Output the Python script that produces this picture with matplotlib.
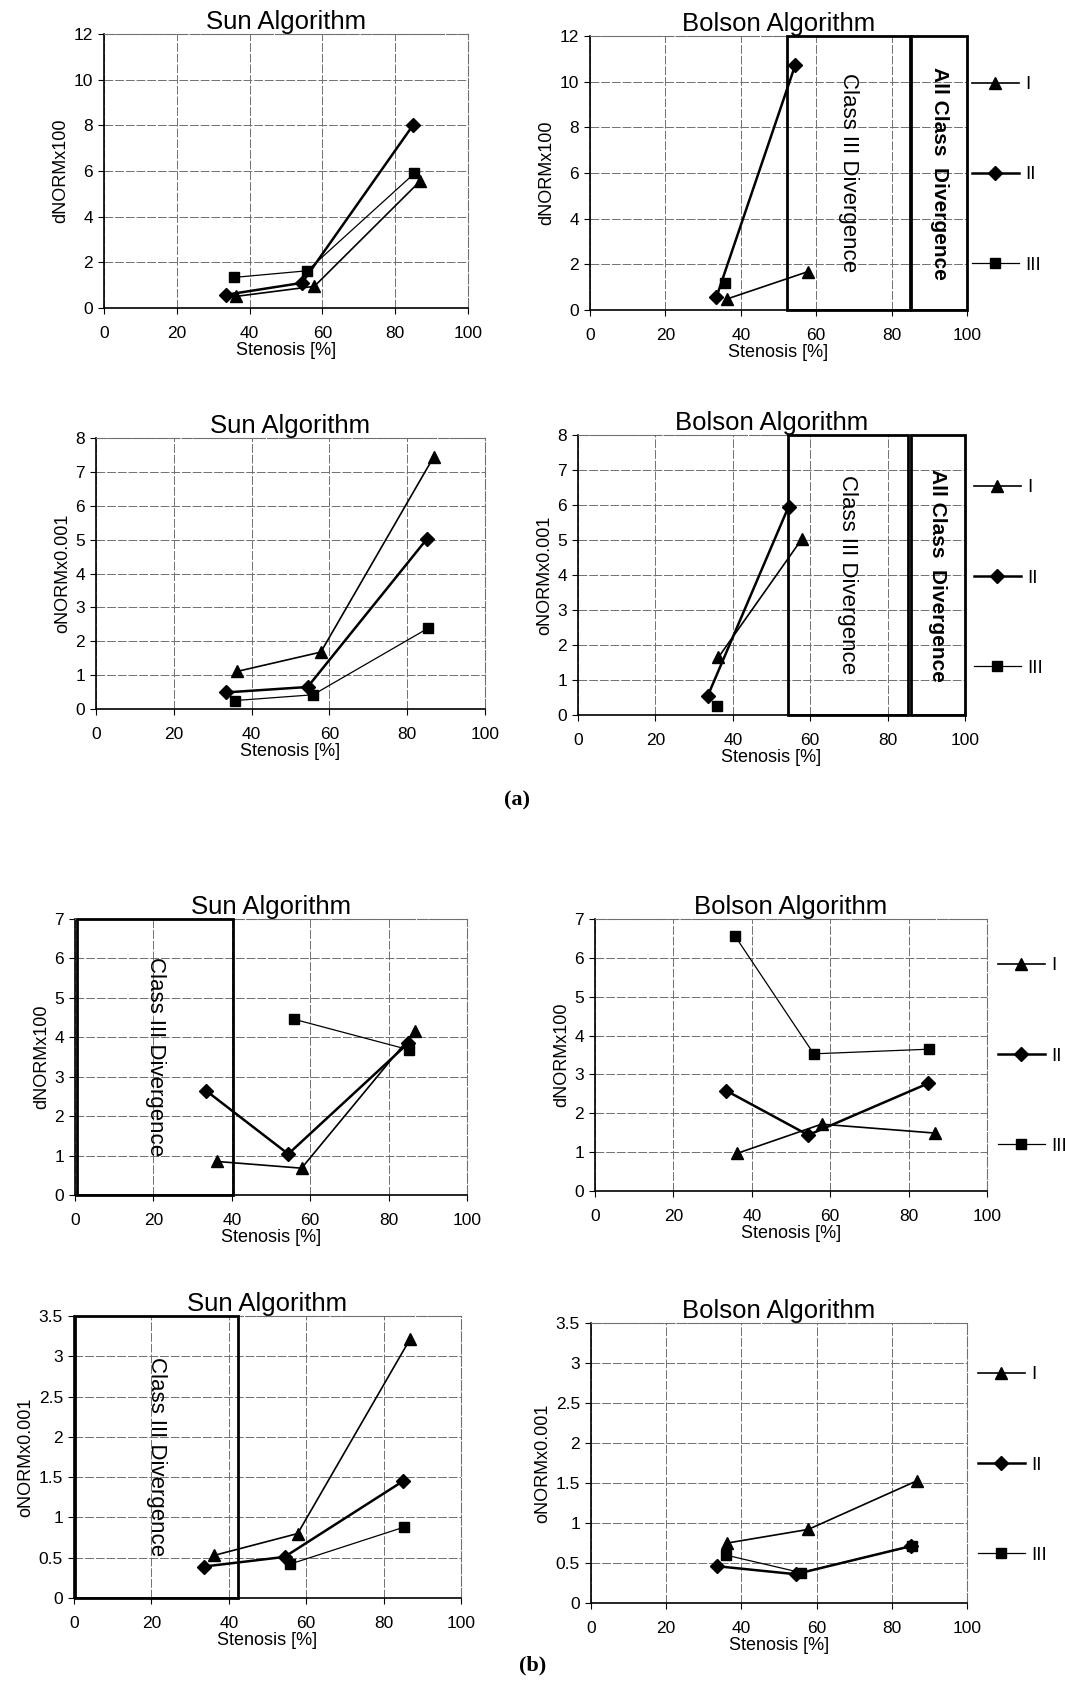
import numpy as np
import matplotlib
matplotlib.use("Agg")
import matplotlib.pyplot as plt
from matplotlib.patches import Rectangle

plt.rcParams['font.family'] = ['Liberation Sans', 'DejaVu Sans']

nan = np.nan

# stenosis [%] of the three classes
sten_I = [36.3, 57.8, 86.8]
sten_II = [33.5, 54.4, 85.0]
sten_III = [35.8, 55.8, 85.3]
xticks = [0, 20, 40, 60, 80, 100]

# (a) Sun, dNORMx100
a_sun_d_I = [0.51, 0.95, 5.55]
a_sun_d_II = [0.58, 1.10, 8.03]
a_sun_d_III = [1.34, 1.63, 5.90]
# (a) Bolson, dNORMx100
a_bol_d_I = [0.48, 1.68, nan]
a_bol_d_II = [0.55, 10.71, nan]
a_bol_d_III = [1.20, nan, nan]
# (a) Sun, oNORMx0.001
a_sun_o_I = [1.11, 1.68, 7.44]
a_sun_o_II = [0.49, 0.65, 5.01]
a_sun_o_III = [0.25, 0.42, 2.38]
# (a) Bolson, oNORMx0.001
a_bol_o_I = [1.65, 5.02, nan]
a_bol_o_II = [0.54, 5.95, nan]
a_bol_o_III = [0.26, nan, nan]
# (b) Sun, dNORMx100
b_sun_d_I = [0.85, 0.68, 4.17]
b_sun_d_II = [2.64, 1.04, 3.85]
b_sun_d_III = [nan, 4.46, 3.68]
# (b) Bolson, dNORMx100
b_bol_d_I = [0.97, 1.72, 1.49]
b_bol_d_II = [2.58, 1.44, 2.77]
b_bol_d_III = [6.55, 3.53, 3.65]
# (b) Sun, oNORMx0.001
b_sun_o_I = [0.53, 0.80, 3.21]
b_sun_o_II = [0.39, 0.51, 1.45]
b_sun_o_III = [nan, 0.42, 0.88]
# (b) Bolson, oNORMx0.001
b_bol_o_I = [0.75, 0.92, 1.53]
b_bol_o_II = [0.46, 0.36, 0.71]
b_bol_o_III = [0.60, 0.38, 0.71]

# divergence regions (stenosis ranges)
a_bol_d_class3 = [52.3, 84.8]
a_bol_d_all = [85.2, 100]
a_bol_o_class3 = [54.3, 85.2]
a_bol_o_all = [86.0, 100]
b_sun_d_class3 = [0.5, 40.4]
b_sun_o_class3 = [0.2, 42.5]

W, H = 1065, 1682
fig = plt.figure(figsize=(W / 100, H / 100), dpi=100)


def px(l, t, r, b):
    return [l / W, 1 - b / H, (r - l) / W, (b - t) / H]


def panel(rect, yI, yII, yIII, ymax, ystep, title, ylabel, legend_at=None):
    ax = fig.add_axes(rect)
    ax.plot(sten_I, yI, color='k', lw=1.2, marker='^', ms=8.5, label='I', zorder=4)
    ax.plot(sten_II, yII, color='k', lw=1.8, marker='D', ms=7, label='II', zorder=4)
    ax.plot(sten_III, yIII, color='k', lw=0.9, marker='s', ms=7.5, label='III', zorder=4)
    ax.set_xlim(0, 100)
    ax.set_ylim(0, ymax)
    ax.set_xticks(xticks)
    yt = np.arange(0, ymax + ystep / 2, ystep)
    ax.set_yticks(yt)
    ax.set_yticklabels(['%g' % v for v in yt])
    ax.tick_params(axis='x', labelsize=12.5, length=4, pad=9, direction='out')
    ax.tick_params(axis='y', labelsize=12.5, length=4, pad=4, direction='out')
    ax.grid(True, color='#707070', lw=0.7, ls=(0, (9, 2)))
    ax.set_axisbelow(True)
    for s in ['top', 'right']:
        ax.spines[s].set_color('#707070')
        ax.spines[s].set_linestyle((0, (9, 2)))
    for s in ['left', 'bottom']:
        ax.spines[s].set_linewidth(1.2)
    ax.set_title(title, fontsize=18.5, pad=3)
    ax.set_xlabel('Stenosis [%]', fontsize=13, labelpad=1)
    ax.set_ylabel(ylabel, fontsize=13, labelpad=3)
    if legend_at is not None:
        ax.legend(loc='center left', bbox_to_anchor=legend_at, frameon=False,
                  fontsize=13.5, handlelength=2.5, handletextpad=0.35,
                  labelspacing=3.9, borderpad=0, borderaxespad=0, numpoints=1)
    return ax


def region(ax, span, ymax, text, bold=False):
    ax.add_patch(Rectangle((span[0], 0), span[1] - span[0], ymax, fill=False,
                           ec='k', lw=2, zorder=3, clip_on=False))
    ax.text((span[0] + span[1]) / 2, ymax / 2, text, rotation=270, ha='center',
            va='center', fontsize=15 if bold else 16,
            fontweight='bold' if bold else 'normal', zorder=5)


ax1 = panel(px(104, 34, 468, 308), a_sun_d_I, a_sun_d_II, a_sun_d_III, 12, 2,
            'Sun Algorithm', 'dNORMx100')
ax2 = panel(px(590, 36, 967, 310), a_bol_d_I, a_bol_d_II, a_bol_d_III, 12, 2,
            'Bolson Algorithm', 'dNORMx100', legend_at=(1.013, 0.493))
region(ax2, a_bol_d_class3, 12, 'Class III Divergence')
region(ax2, a_bol_d_all, 12, 'All Class  Divergence', bold=True)

ax3 = panel(px(96, 438, 485, 709), a_sun_o_I, a_sun_o_II, a_sun_o_III, 8, 1,
            'Sun Algorithm', 'oNORMx0.001')
ax4 = panel(px(578, 435, 965, 715), a_bol_o_I, a_bol_o_II, a_bol_o_III, 8, 1,
            'Bolson Algorithm', 'oNORMx0.001', legend_at=(1.023, 0.489))
region(ax4, a_bol_o_class3, 8, 'Class III Divergence')
region(ax4, a_bol_o_all, 8, 'All Class  Divergence', bold=True)

ax5 = panel(px(75, 919, 467, 1195), b_sun_d_I, b_sun_d_II, b_sun_d_III, 7, 1,
            'Sun Algorithm', 'dNORMx100')
region(ax5, b_sun_d_class3, 7, 'Class III Divergence')
ax6 = panel(px(595, 919, 987, 1191), b_bol_d_I, b_bol_d_II, b_bol_d_III, 7, 1,
            'Bolson Algorithm', 'dNORMx100', legend_at=(1.028, 0.496))

ax7 = panel(px(74, 1316, 461, 1598), b_sun_o_I, b_sun_o_II, b_sun_o_III, 3.5, 0.5,
            'Sun Algorithm', 'oNORMx0.001')
region(ax7, b_sun_o_class3, 3.5, 'Class III Divergence')
ax8 = panel(px(591, 1323, 967, 1603), b_bol_o_I, b_bol_o_II, b_bol_o_III, 3.5, 0.5,
            'Bolson Algorithm', 'oNORMx0.001', legend_at=(1.029, 0.493))

fig.text(517 / W, 1 - 800 / H, '(a)', ha='center', va='center', fontsize=16,
         fontweight='bold', family='Liberation Serif')
fig.text(533 / W, 1 - 1665 / H, '(b)', ha='center', va='center', fontsize=16,
         fontweight='bold', family='Liberation Serif')

fig.savefig('out.png', dpi=100)
